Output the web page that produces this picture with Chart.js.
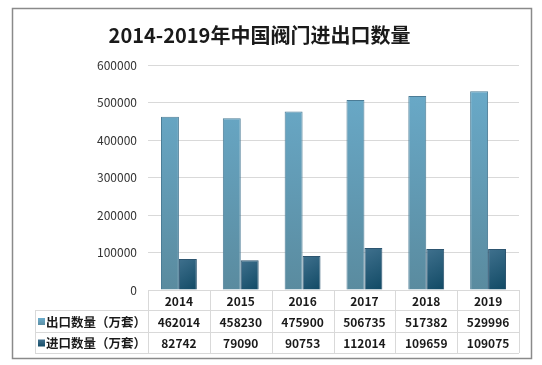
<!DOCTYPE html>
<html lang="zh">
  <head>
    <meta charset="UTF-8" />
    <title>2014-2019年中国阀门进出口数量</title>
    <style>
      * {
        margin: 0;
        padding: 0;
        box-sizing: border-box;
      }
      body {
        width: 542px;
        height: 365px;
        background: #ffffff;
        overflow: hidden;
      }
      .chart-box {
        position: absolute;
        left: 0;
        top: 0;
        width: 542px;
        height: 365px;
      }
    </style>
  </head>
  <body>
    <div class="chart-box">
      <canvas id="myChart" width="542" height="365"></canvas>
    </div>
    <script src="https://cdn.jsdelivr.net/npm/chart.js"></script>
    <script>
      const years = ["2014", "2015", "2016", "2017", "2018", "2019"];
      const exportLabel = "出口数量（万套）";
      const importLabel = "进口数量（万套）";
      const exportData = [462014, 458230, 475900, 506735, 517382, 529996];
      const importData = [82742, 79090, 90753, 112014, 109659, 109075];
      const yTicks = [0, 100000, 200000, 300000, 400000, 500000, 600000];

      const FONT = "'Noto Sans CJK SC', 'Noto Sans', sans-serif";

      function exportFill(context) {
        const area = context.chart.chartArea;
        if (!area) return "#63a3c2";
        const g = context.chart.ctx.createLinearGradient(0, area.top, 0, area.bottom);
        g.addColorStop(0, "#6badcd");
        g.addColorStop(1, "#5a8b9f");
        return g;
      }

      function importFill(context) {
        const chart = context.chart;
        const area = chart.chartArea;
        if (!area || !chart.scales.x || context.dataIndex === undefined) return "#2f5f7c";
        const x = chart.scales.x.getPixelForValue(context.dataIndex) + 9;
        const y = chart.scales.y.getPixelForValue(importData[context.dataIndex]);
        if (!isFinite(x) || !isFinite(y)) return "#2f5f7c";
        const g = chart.ctx.createLinearGradient(x - 12, y, x + 12, area.bottom);
        g.addColorStop(0, "#41728f");
        g.addColorStop(1, "#0f4863");
        return g;
      }

      // frame and data table under the plot
      const tablePlugin = {
        id: "tablePlugin",
        beforeDraw(chart) {
          const c = chart.ctx;
          c.save();
          c.strokeStyle = "#8a8a8a";
          c.lineWidth = 1.5;
          c.strokeRect(12.5, 8.5, 519, 350);
          c.restore();
        },
        afterDraw(chart) {
          const c = chart.ctx;
          const xs = chart.scales.x;
          const area = chart.chartArea;
          const left = 35;
          const rows = [area.bottom, 310, 332, 353];
          const bounds = [];
          for (let i = 0; i <= years.length; i++) {
            bounds.push(xs.getPixelForValue(i - 0.5));
          }
          c.save();
          c.strokeStyle = "#d9d9d9";
          c.lineWidth = 1;
          c.beginPath();
          // horizontal lines
          c.moveTo(bounds[0], rows[0] + 0.5);
          c.lineTo(bounds[years.length], rows[0] + 0.5);
          for (let r = 1; r < rows.length; r++) {
            c.moveTo(left, rows[r] + 0.5);
            c.lineTo(bounds[years.length], rows[r] + 0.5);
          }
          // vertical lines
          c.moveTo(left + 0.5, rows[1]);
          c.lineTo(left + 0.5, rows[3]);
          for (let i = 0; i <= years.length; i++) {
            c.moveTo(Math.round(bounds[i]) + 0.5, rows[0]);
            c.lineTo(Math.round(bounds[i]) + 0.5, rows[3]);
          }
          c.stroke();

          c.fillStyle = "#1a1a1a";
          c.font = "bold 12px " + FONT;
          c.textAlign = "center";
          c.textBaseline = "middle";
          years.forEach((y, i) => {
            const cx = xs.getPixelForValue(i);
            c.fillText(y, cx, (rows[0] + rows[1]) / 2 + 1);
            c.fillText(String(exportData[i]), cx, (rows[1] + rows[2]) / 2 + 1);
            c.fillText(String(importData[i]), cx, (rows[2] + rows[3]) / 2 + 1);
          });

          // legend swatches + labels
          const series = [
            { label: exportLabel, top: "#6badcd", bottom: "#5a8b9f", row: 1 },
            { label: importLabel, top: "#41728f", bottom: "#0f4863", row: 2 },
          ];
          series.forEach((s) => {
            const cy = (rows[s.row] + rows[s.row + 1]) / 2 + 1;
            const g = c.createLinearGradient(0, cy - 4, 0, cy + 4);
            g.addColorStop(0, s.top);
            g.addColorStop(1, s.bottom);
            c.fillStyle = g;
            c.fillRect(38, cy - 4, 7, 7);
            c.fillStyle = "#1a1a1a";
            c.textAlign = "left";
            c.font = "bold 12.5px " + FONT;
            c.fillText(s.label, 46, cy);
          });
          c.restore();
        },
      };

      const ctx = document.getElementById("myChart").getContext("2d");
      const miGrafico = new Chart(ctx, {
        type: "bar",
        data: {
          labels: years,
          datasets: [
            {
              label: exportLabel,
              data: exportData,
              backgroundColor: exportFill,
              borderColor: "#4b7c96",
              borderWidth: 1,
              barPercentage: 1,
              categoryPercentage: 0.58,
            },
            {
              label: importLabel,
              data: importData,
              backgroundColor: importFill,
              borderColor: "#2d5570",
              borderWidth: 1,
              barPercentage: 1,
              categoryPercentage: 0.58,
            },
          ],
        },
        options: {
          responsive: false,
          animation: false,
          devicePixelRatio: 1,
          layout: {
            padding: { top: 0, right: 23, bottom: 0, left: 0 },
          },
          plugins: {
            legend: { display: false },
            tooltip: { enabled: false },
            title: {
              display: true,
              text: "2014-2019年中国阀门进出口数量",
              color: "#1a1a1a",
              font: { family: FONT, size: 20, weight: "bold", lineHeight: 1.2 },
              padding: { top: 23, bottom: 18 },
            },
          },
          scales: {
            x: {
              grid: { display: false },
              border: { display: false },
              ticks: { display: false },
              afterFit(scale) {
                scale.height = 75;
              },
            },
            y: {
              min: 0,
              max: 600000,
              afterBuildTicks(scale) {
                scale.ticks = yTicks.map((v) => ({ value: v }));
              },
              afterFit(scale) {
                scale.width = 148;
              },
              grid: {
                color: "#d9d9d9",
                drawTicks: false,
              },
              border: { display: false },
              ticks: {
                padding: 11,
                color: "#333333",
                font: { family: FONT, size: 12 },
                callback: (v) => String(v),
              },
            },
          },
        },
        plugins: [tablePlugin],
      });
    </script>
  </body>
</html>
